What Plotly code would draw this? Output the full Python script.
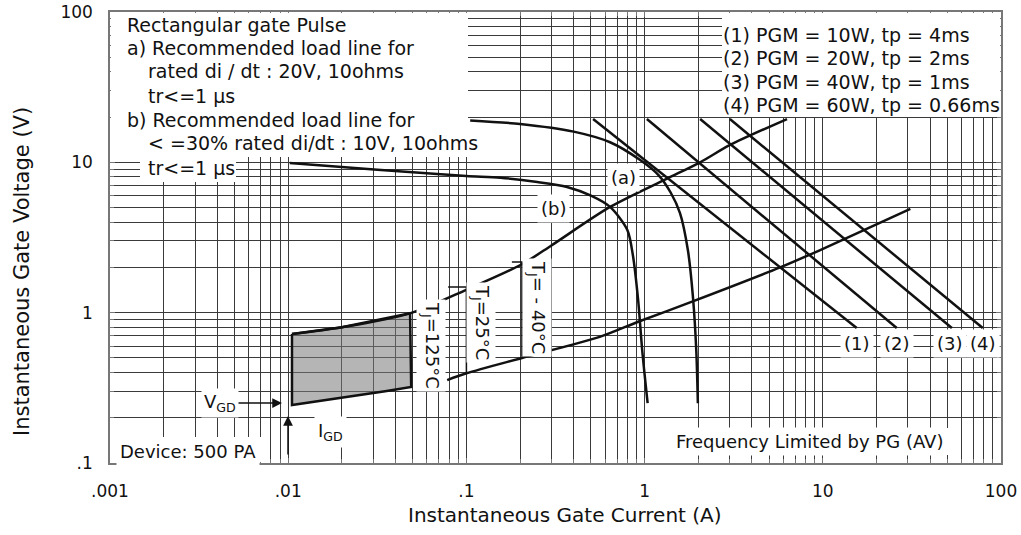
import plotly.graph_objects as go

# ---- data (current A, voltage V) ----
# load line (a): 20V, 10 ohms
a_i = [0.105, 0.2, 0.4, 0.64, 0.94, 1.2, 1.4, 1.58, 1.75, 1.87, 1.95, 1.99]
a_v = [19.0, 18.0, 16.0, 13.6, 10.4, 8.2, 6.3, 4.6, 2.6, 1.25, 0.56, 0.25]

# load line (b): 10V, 10 ohms
b_i = [0.0102, 0.02, 0.05, 0.1, 0.155, 0.25, 0.367, 0.5, 0.64, 0.8, 0.86, 0.92, 0.97, 1.04]
b_v = [9.9, 9.3, 8.6, 8.1, 7.9, 7.4, 6.86, 6.0, 5.05, 3.55, 2.4, 1.21, 0.56, 0.25]

# peak gate power lines (1)..(4)
pgm_names = ['(1)', '(2)', '(3)', '(4)']
pgm_i_start = [0.514, 1.03, 2.05, 3.01]
pgm_i_end = [15.5, 26.0, 53.0, 79.0]
pgm_v_start = [19.4, 19.4, 19.4, 19.4]
pgm_v_end = [0.79, 0.79, 0.79, 0.79]

# upper boundary of gate trigger area
up_i = [0.0105, 0.02, 0.0483, 0.1, 0.205, 0.3, 0.64, 1.32, 2.05, 3.0, 6.3]
up_v = [0.72, 0.8, 0.99, 1.42, 2.1, 2.8, 5.05, 7.74, 10.0, 13.0, 19.4]

# lower boundary of gate trigger area
lo_i = [0.078, 0.1, 0.205, 0.56, 0.92, 1.8, 5.76, 9.6, 31.0]
lo_v = [0.356, 0.395, 0.5, 0.69, 0.87, 1.17, 2.0, 2.6, 4.9]

# non-trigger area (shaded)
gd_i = [0.0105, 0.02, 0.0483, 0.049, 0.035, 0.0203, 0.0105, 0.0105]
gd_v = [0.72, 0.80, 0.99, 0.32, 0.30, 0.274, 0.243, 0.72]

# Tj brackets
tj25_i = [0.079, 0.1, 0.1]
tj25_v = [1.48, 1.48, 0.40]
tj40_i = [0.18, 0.205, 0.205]
tj40_v = [2.17, 2.17, 0.51]

x_tick_vals = [0.001, 0.01, 0.1, 1, 10, 100]
x_tick_text = ['.001', '.01', '.1', '1', '10', '100']
y_tick_vals = [0.1, 1, 10, 100]
y_tick_text = ['.1', '1', '10', '100']

box_lines = ['Rectangular gate Pulse',
             'a) Recommended load line for',
             'rated di / dt : 20V, 10ohms',
             'tr<=1 µs',
             'b) Recommended load line for',
             '< =30% rated di/dt : 10V, 10ohms',
             'tr<=1 µs']
legend_lines = ['(1) PGM = 10W, tp = 4ms',
                '(2) PGM = 20W, tp = 2ms',
                '(3) PGM = 40W, tp = 1ms',
                '(4) PGM = 60W, tp = 0.66ms']

FONT = 'DejaVu Sans'
INK = '#111111'
GRID = '#3a3a3a'
FRAME = '#777777'

W, H = 1021, 535
L, R, T, B = 110, 20, 12, 72


def px(x):
    # page pixel -> paper fraction
    return (x - L) / (W - L - R)


def py(y):
    return (H - B - y) / (H - T - B)


def minor_vals(lo, hi):
    vals = []
    for e in range(lo, hi):
        for m in range(2, 10):
            vals.append(m * 10 ** e)
    return vals


fig = go.Figure()

line = dict(color=INK, width=2.5)
curve = dict(color=INK, width=2.5, shape='spline', smoothing=0.8)

fig.add_trace(go.Scatter(x=gd_i, y=gd_v, mode='lines', fill='toself',
                         fillcolor='rgba(120,120,120,0.55)', line=line))
fig.add_trace(go.Scatter(x=up_i, y=up_v, mode='lines', line=curve))
fig.add_trace(go.Scatter(x=lo_i, y=lo_v, mode='lines', line=curve))
fig.add_trace(go.Scatter(x=tj25_i, y=tj25_v, mode='lines', line=dict(color=INK, width=1.5)))
fig.add_trace(go.Scatter(x=tj40_i, y=tj40_v, mode='lines', line=dict(color=INK, width=1.5)))
fig.add_trace(go.Scatter(x=a_i, y=a_v, mode='lines', line=curve))
fig.add_trace(go.Scatter(x=b_i, y=b_v, mode='lines', line=curve))
for k in range(len(pgm_names)):
    fig.add_trace(go.Scatter(x=[pgm_i_start[k], pgm_i_end[k]], y=[pgm_v_start[k], pgm_v_end[k]],
                             mode='lines', line=line))

# white panels that hide the grid (no curves run through them)
white_boxes = [(111, 13, 468, 157), (140, 150, 236, 182), (722, 13, 1000, 117),
               (111, 437, 262, 462), (668, 428, 952, 455)]
shapes = []
for x0, y0, x1, y1 in white_boxes:
    shapes.append(dict(type='rect', xref='paper', yref='paper', x0=px(x0), x1=px(x1),
                       y0=py(y1), y1=py(y0), fillcolor='white', line=dict(width=0), layer='above'))

ann = []
box_y = [25, 48, 71, 96, 120, 143, 168]
box_x = [125, 125, 146, 146, 125, 146, 146]
for txt, xx, yy in zip(box_lines, box_x, box_y):
    ann.append(dict(text=txt, x=px(xx), y=py(yy), xanchor='left', yanchor='middle', size=19))
leg_y = [35, 58, 82, 105]
for txt, yy in zip(legend_lines, leg_y):
    ann.append(dict(text=txt, x=px(721), y=py(yy), xanchor='left', yanchor='middle', size=19))

label_pos = [('(a)', 623, 177), ('(b)', 553, 208), ('(1)', 857, 343), ('(2)', 897, 343),
             ('(3)', 950, 343), ('(4)', 983, 343),
             ('Frequency Limited by PG (AV)', 809, 441), ('Device: 500 PA', 188, 451),
             ('I<sub>GD</sub>', 330, 432)]
for txt, xx, yy in label_pos:
    ann.append(dict(text=txt, x=px(xx), y=py(yy), xanchor='center', yanchor='middle',
                    bgcolor='white', borderpad=3))

tj_pos = [('T<sub>J</sub>= - 40°C', 537, 307), ('T<sub>J</sub>=25°C', 481, 322),
          ('T<sub>J</sub>=125°C', 431, 345)]
for txt, xx, yy in tj_pos:
    ann.append(dict(text=txt, x=px(xx), y=py(yy), xanchor='center', yanchor='middle',
                    textangle=90, bgcolor='white', borderpad=2))

# V_GD arrow (text as tail) and I_GD arrow
ann.append(dict(text='V<sub>GD</sub>', x=px(282), y=py(403), ax=-62, ay=0,
                showarrow=True, arrowhead=2, arrowsize=1.3, arrowwidth=1.5, arrowcolor=INK,
                bgcolor='white', borderpad=2))
ann.append(dict(text='', x=px(288), y=py(416), ax=0, ay=40,
                showarrow=True, arrowhead=2, arrowsize=1.3, arrowwidth=1.5, arrowcolor=INK))

# axis titles
ann.append(dict(text='Instantaneous Gate Current (A)', x=px(565), y=py(515),
                xanchor='center', yanchor='middle', size=20))
ann.append(dict(text='Instantaneous Gate Voltage (V)', x=px(22), y=py(272),
                xanchor='center', yanchor='middle', textangle=-90, size=21))

for a in ann:
    a.setdefault('xref', 'paper')
    a.setdefault('yref', 'paper')
    a.setdefault('showarrow', False)
    a.setdefault('borderpad', 1)
    a['font'] = dict(family=FONT, size=a.pop('size', 18), color=INK)

axis_common = dict(
    type='log', showline=True, linecolor=FRAME, linewidth=1.5, mirror='ticks',
    ticks='inside', ticklen=5, tickcolor=FRAME, showgrid=True, gridcolor=GRID, gridwidth=1,
    zeroline=False, automargin=False, tickfont=dict(family=FONT, size=17, color=INK),
)

fig.update_layout(
    width=W, height=H,
    margin=dict(l=L, r=R, t=T, b=B),
    plot_bgcolor='white', paper_bgcolor='white',
    showlegend=False,
    shapes=shapes,
    annotations=ann,
    xaxis=dict(axis_common, range=[-3, 2], tickmode='array', tickvals=x_tick_vals,
               ticktext=x_tick_text, ticklabelstandoff=12,
               minor=dict(tickmode='array', tickvals=minor_vals(-3, 2), showgrid=True,
                          gridcolor=GRID, gridwidth=1, ticks='inside', ticklen=4,
                          tickcolor=FRAME)),
    yaxis=dict(axis_common, range=[-1, 2], tickmode='array', tickvals=y_tick_vals,
               ticktext=y_tick_text, ticklabelstandoff=12,
               minor=dict(tickmode='array', tickvals=minor_vals(-1, 2), showgrid=True,
                          gridcolor=GRID, gridwidth=1, ticks='inside', ticklen=4,
                          tickcolor=FRAME)),
)

# the page body has a default 8px margin; drop it so the figure fills the window
fig.write_html("out.html", config={'displayModeBar': False},
               post_script="document.body.style.margin = '0px';")
